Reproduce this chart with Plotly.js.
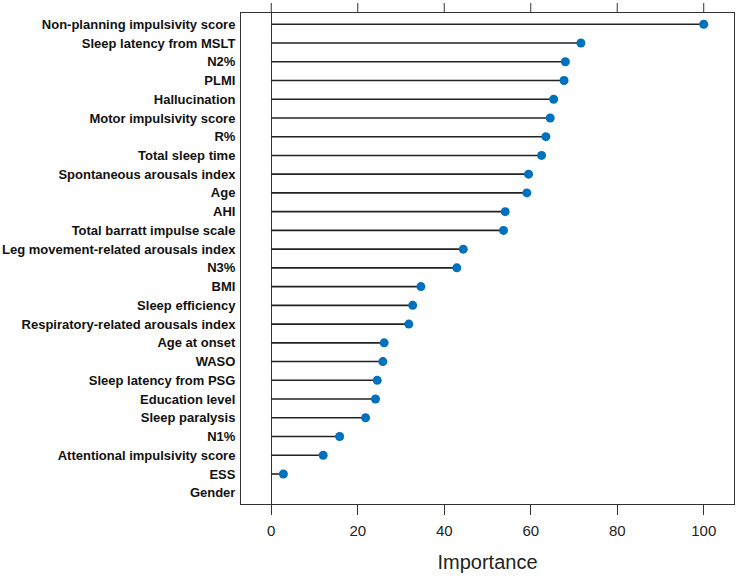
<!DOCTYPE html>
<html>
<head>
<meta charset="utf-8">
<script src="https://cdn.plot.ly/plotly-3.0.1.min.js"></script>
<style>html,body{margin:0;padding:0;background:#fff;}#chart{width:750px;height:581px;}</style>
</head>
<body>
<div id="chart"></div>
<script>
const features = [
  "Non-planning impulsivity score", "Sleep latency from MSLT", "N2%", "PLMI", "Hallucination",
  "Motor impulsivity score", "R%", "Total sleep time", "Spontaneous arousals index", "Age",
  "AHI", "Total barratt impulse scale", "Leg movement-related arousals index", "N3%", "BMI",
  "Sleep efficiency", "Respiratory-related arousals index", "Age at onset", "WASO",
  "Sleep latency from PSG", "Education level", "Sleep paralysis", "N1%",
  "Attentional impulsivity score", "ESS", "Gender"
];
const importance = [
  100, 71.6, 68.0, 67.7, 65.3,
  64.5, 63.5, 62.5, 59.5, 59.1,
  54.1, 53.7, 44.4, 42.9, 34.6,
  32.7, 31.8, 26.1, 25.8,
  24.5, 24.1, 21.8, 15.8,
  12.0, 2.8, 0
];
const xTicks = [0, 20, 40, 60, 80, 100];

const stemX = [], stemY = [];
features.forEach((f, i) => {
  stemX.push(0, importance[i], null);
  stemY.push(f, f, null);
});

const stems = {
  type: 'scatter', mode: 'lines', x: stemX, y: stemY,
  line: {color: '#222', width: 1.6}, hoverinfo: 'skip', showlegend: false
};
const dots = {
  type: 'scatter', mode: 'markers', x: importance, y: features,
  marker: {color: '#0071BC', size: 9, opacity: importance.map(v => v > 0 ? 1 : 0)},
  showlegend: false
};

const marginTop = 13, marginBottom = 77, figH = 581, tickLen = 10;
const plotH = figH - marginTop - marginBottom;
// mirrored ticks along the top edge, one per x tick value
const topTicks = xTicks.map(v => ({
  type: 'line', xref: 'x', yref: 'paper', x0: v, x1: v,
  y0: 1, y1: 1 + tickLen / plotH, line: {color: '#333', width: 1}
}));

const layout = {
  width: 750, height: figH,
  margin: {l: 241, r: 16, t: marginTop, b: marginBottom},
  paper_bgcolor: '#fff', plot_bgcolor: '#fff',
  font: {family: 'Liberation Sans, Arial, sans-serif', color: '#222'},
  shapes: topTicks,
  xaxis: {
    range: [-7, 107], tickvals: xTicks, ticktext: xTicks.map(String),
    ticks: 'outside', ticklen: tickLen, tickcolor: '#333', tickwidth: 1,
    showline: true, linecolor: '#333', linewidth: 1, mirror: true,
    showgrid: false, zeroline: true, zerolinecolor: '#333', zerolinewidth: 1,
    tickfont: {size: 15, color: '#222'}, ticklabelstandoff: 3,
    title: {text: 'Importance', font: {size: 20, color: '#222'}, standoff: 16}
  },
  yaxis: {
    type: 'category', categoryorder: 'array', categoryarray: features,
    range: [25.6, -0.6], showgrid: false, zeroline: false,
    showline: true, linecolor: '#333', linewidth: 1, mirror: true,
    ticks: '', ticklabelstandoff: 2,
    tickfont: {size: 13, color: '#111', weight: 'bold'}
  }
};

Plotly.newPlot('chart', [stems, dots], layout, {staticPlot: true, displayModeBar: false});
</script>
</body>
</html>
